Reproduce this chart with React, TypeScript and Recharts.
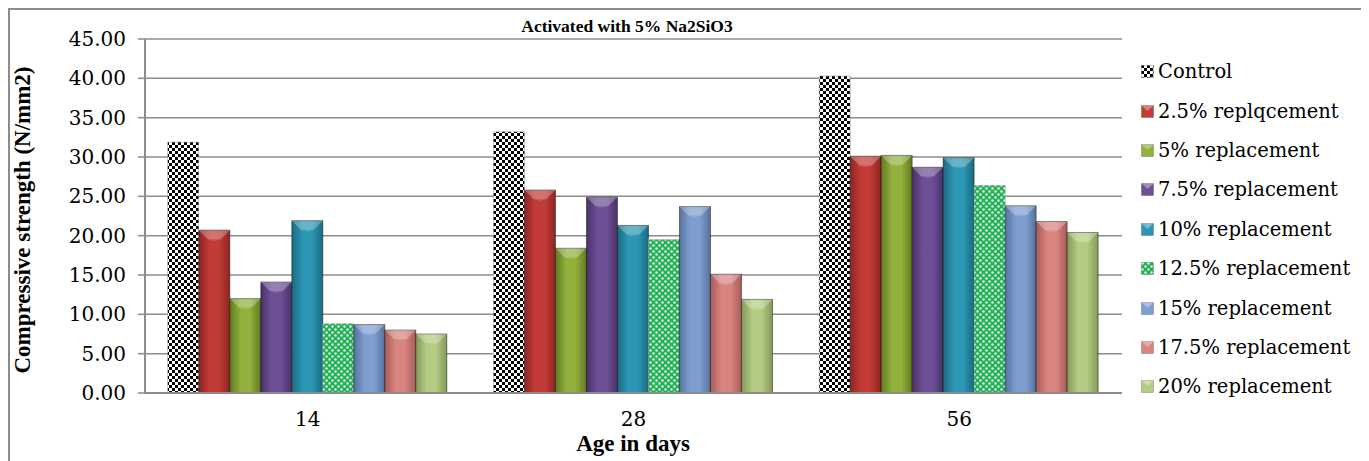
import { BarChart, Bar, XAxis, YAxis, CartesianGrid } from "recharts";

const ages = ["14", "28", "56"];
const yTicks = [0, 5, 10, 15, 20, 25, 30, 35, 40, 45];

const control = [31.9, 33.2, 40.3];
const rep2_5 = [20.7, 25.8, 30.1];
const rep5 = [12.0, 18.4, 30.2];
const rep7_5 = [14.1, 24.9, 28.7];
const rep10 = [21.9, 21.3, 29.9];
const rep12_5 = [8.8, 19.5, 26.4];
const rep15 = [8.7, 23.7, 23.8];
const rep17_5 = [8.0, 15.1, 21.8];
const rep20 = [7.5, 11.9, 20.4];

const seriesNames = [
  "Control",
  "2.5% replqcement",
  "5% replacement",
  "7.5% replacement",
  "10% replacement",
  "12.5% replacement",
  "15% replacement",
  "17.5% replacement",
  "20% replacement",
];
const seriesValues = [control, rep2_5, rep5, rep7_5, rep10, rep12_5, rep15, rep17_5, rep20];

// fill, darker edge
const seriesColors = [
  ["url(#checker)", ""],
  ["#c23b36", "#8e2522"],
  ["#91b03c", "#637a22"],
  ["#6d4f96", "#4a3269"],
  ["#2c97b4", "#1a6a80"],
  ["url(#greenDots)", ""],
  ["#7f9ed0", "#56729e"],
  ["#d8847f", "#a75c58"],
  ["#b3cb82", "#83995a"],
];

const data = ages.map((age, i) => {
  const row: Record<string, string | number> = { age };
  seriesNames.forEach((name, s) => {
    row[name] = seriesValues[s][i];
  });
  return row;
});

const serif = "'Liberation Serif', serif";
const serifReg = "'DejaVu Serif', serif";

function gradId(s: number) {
  return `grad${s}`;
}

function BevelBar(props: any) {
  const { x, y, width, height, fill, pattern } = props;
  if (!height || height <= 0) return null;
  if (pattern) {
    return <rect x={x} y={y} width={width} height={height} fill={fill} stroke="#9a9a9a" strokeWidth={0.5} />;
  }
  const b = Math.min(9, height / 2);
  return (
    <g>
      <rect x={x} y={y} width={width} height={height} fill={fill} stroke="rgba(0,0,0,0.45)" strokeWidth={1} />
      <polygon
        points={`${x},${y} ${x + width},${y} ${x + width - b},${y + b} ${x + b},${y + b}`}
        fill="rgba(255,255,255,0.28)"
      />
      <polygon points={`${x + b},${y + b} ${x + width - b},${y + b} ${x + width / 2},${y + b + 2}`} fill="rgba(255,255,255,0.15)" />
    </g>
  );
}

function LegendBox() {
  return (
    <div style={{ position: "absolute", left: 1131, top: 42, fontFamily: serifReg, fontSize: 19.5, color: "#000" }}>
      {seriesNames.map((name, s) => {
        const isPattern = seriesColors[s][0].startsWith("url");
        return (
          <div key={name} style={{ height: 39.4, display: "flex", alignItems: "center", whiteSpace: "nowrap" }}>
            <svg width={13} height={13} style={{ marginRight: 4 }}>
              <rect x={0.5} y={0.5} width={12} height={12} fill={seriesColors[s][0]} stroke="rgba(0,0,0,0.4)" strokeWidth={0.5} />
              {!isPattern && <polygon points="0.5,0.5 12.5,0.5 6.5,6" fill="rgba(255,255,255,0.35)" />}
            </svg>
            <span>{name}</span>
          </div>
        );
      })}
    </div>
  );
}

export default function App() {
  return (
    <div
      style={{
        position: "relative",
        width: 1353,
        height: 453,
        border: "2px solid #8c8c8c",
        background: "#fff",
        fontFamily: serif,
      }}
    >
      <svg width={0} height={0} style={{ position: "absolute" }}>
        <defs>
          <pattern id="checker" width={6} height={6} patternUnits="userSpaceOnUse">
            <rect width={6} height={6} fill="#fff" />
            <rect width={3} height={3} fill="#000" />
            <rect x={3} y={3} width={3} height={3} fill="#000" />
          </pattern>
          <pattern id="greenDots" width={6} height={6} patternUnits="userSpaceOnUse">
            <rect width={6} height={6} fill="#21b255" />
            <circle cx={1.5} cy={1.5} r={1.2} fill="#e9f9ee" />
            <circle cx={4.5} cy={4.5} r={1.2} fill="#e9f9ee" />
          </pattern>
          {seriesColors.map(([c, d], s) => (
            <linearGradient key={s} id={gradId(s)} x1="0" y1="0" x2="1" y2="0">
              <stop offset="0%" stopColor={d || c} />
              <stop offset="35%" stopColor={c} />
              <stop offset="65%" stopColor={c} />
              <stop offset="100%" stopColor={d || c} />
            </linearGradient>
          ))}
        </defs>
      </svg>

      <div
        style={{
          position: "absolute",
          left: 617,
          top: 16,
          transform: "translate(-50%, -50%)",
          fontWeight: "bold",
          fontSize: 17.5,
          whiteSpace: "nowrap",
        }}
      >
        Activated with 5% Na2SiO3
      </div>

      <BarChart
        width={1353}
        height={453}
        data={data}
        margin={{ top: 29, right: 241, left: 0, bottom: 40 }}
        barCategoryGap="7%"
        barGap={0}
      >
        <CartesianGrid vertical={false} stroke="#8c8c8c" strokeWidth={1.5} />
        <XAxis
          dataKey="age"
          height={30}
          tickLine={false}
          tickMargin={13}
          axisLine={{ stroke: "#8c8c8c", strokeWidth: 2 }}
          tick={{ fill: "#000", fontSize: 20, fontFamily: serifReg }}
        />
        <YAxis
          width={135}
          domain={[0, 45]}
          ticks={yTicks}
          interval={0}
          tickFormatter={(v: number) => v.toFixed(2)}
          tickSize={7}
          tickMargin={12}
          axisLine={{ stroke: "#8c8c8c", strokeWidth: 2 }}
          tickLine={{ stroke: "#8c8c8c", strokeWidth: 1.5 }}
          tick={{ fill: "#000", fontSize: 20, fontFamily: serifReg }}
        />
        {seriesNames.map((name, s) => {
          const isPattern = seriesColors[s][0].startsWith("url");
          return (
            <Bar
              key={name}
              dataKey={name}
              fill={isPattern ? seriesColors[s][0] : `url(#${gradId(s)})`}
              shape={(p: any) => <BevelBar {...p} pattern={isPattern} />}
              isAnimationActive={false}
            />
          );
        })}
      </BarChart>

      <LegendBox />

      <div
        style={{
          position: "absolute",
          left: 13,
          top: 210,
          transform: "translate(-50%, -50%) rotate(-90deg)",
          fontWeight: "bold",
          fontSize: 23,
          whiteSpace: "nowrap",
        }}
      >
        Compressive strength (N/mm2)
      </div>
      <div
        style={{
          position: "absolute",
          left: 623,
          top: 434,
          transform: "translate(-50%, -50%)",
          fontWeight: "bold",
          fontSize: 23,
          whiteSpace: "nowrap",
        }}
      >
        Age in days
      </div>
    </div>
  );
}
